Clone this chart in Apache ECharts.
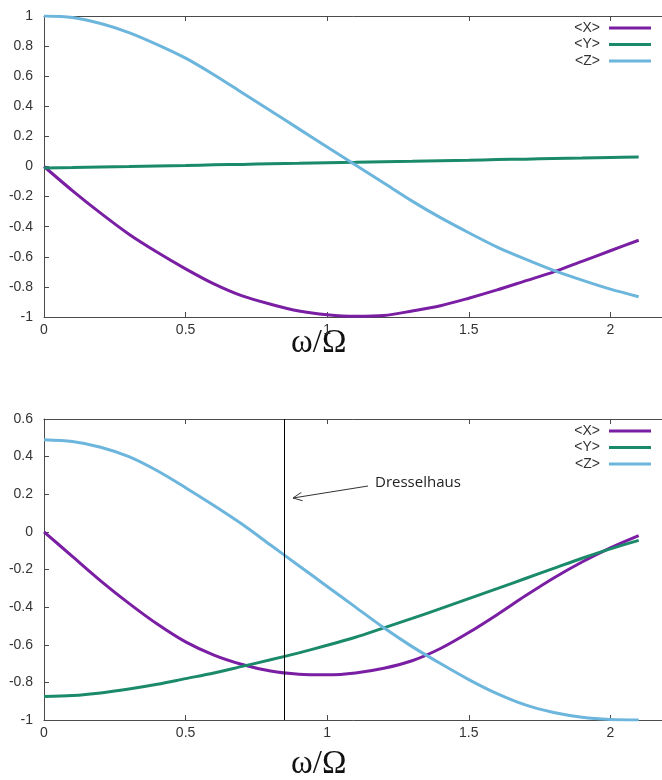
<!DOCTYPE html>
<html><head><meta charset="utf-8">
<script src="https://cdn.jsdelivr.net/npm/echarts@6/dist/echarts.min.js"></script>
<style>html,body{margin:0;padding:0;background:#fff}#c{width:662px;height:780px}</style>
</head><body><div id="c"></div>
<script>
// ---- data ----
const omega = [0, 0.1, 0.2, 0.3, 0.4, 0.5, 0.6, 0.7, 0.8, 0.9, 1.0, 1.1, 1.2, 1.3, 1.4, 1.5, 1.6, 1.7, 1.8, 1.9, 2.0, 2.1];
const seriesNames = ['<X>', '<Y>', '<Z>'];
// upper panel
const topX = [0, -0.16, -0.31, -0.45, -0.57, -0.68, -0.78, -0.86, -0.915, -0.96, -0.985, -0.995, -0.99, -0.96, -0.925, -0.875, -0.82, -0.76, -0.70, -0.63, -0.56, -0.49];
const topY = [-0.010, -0.007, -0.003, 0.000, 0.004, 0.007, 0.011, 0.014, 0.018, 0.021, 0.025, 0.028, 0.032, 0.035, 0.039, 0.042, 0.046, 0.049, 0.053, 0.056, 0.060, 0.063];
const topZ = [1.00, 0.99, 0.95, 0.89, 0.81, 0.72, 0.61, 0.49, 0.37, 0.25, 0.13, 0.01, -0.11, -0.23, -0.34, -0.44, -0.535, -0.615, -0.69, -0.755, -0.815, -0.865];
// lower panel
const botX = [0, -0.13, -0.26, -0.38, -0.49, -0.585, -0.655, -0.705, -0.74, -0.757, -0.76, -0.75, -0.725, -0.685, -0.62, -0.535, -0.44, -0.34, -0.245, -0.16, -0.085, -0.02];
const botY = [-0.875, -0.87, -0.856, -0.835, -0.81, -0.78, -0.75, -0.715, -0.68, -0.643, -0.603, -0.56, -0.51, -0.46, -0.408, -0.355, -0.302, -0.248, -0.194, -0.14, -0.09, -0.045];
const botZ = [0.49, 0.48, 0.45, 0.40, 0.325, 0.235, 0.14, 0.04, -0.07, -0.18, -0.29, -0.40, -0.51, -0.61, -0.70, -0.785, -0.86, -0.92, -0.96, -0.985, -0.997, -1.0];
// axis ranges / ticks
const xRange = [0, 2.2], xStep = 0.5;
const topYRange = [-1, 1], botYRange = [-1, 0.6], yStep = 0.2;
const dresselhausOmega = 0.848;
const annotationText = 'Dresselhaus';
const axisTitle = 'ω/Ω';

// ---- styling ----
const colors = ['#7a1ea3', '#1b8a6b', '#6cb5dc'];
const axisColor = '#4a4a4a';
const labelFont = {fontFamily: 'Liberation Sans', fontSize: 14, color: '#333'};

const chart = echarts.init(document.getElementById('c'), null, {renderer: 'canvas'});
const pairs = (ys) => omega.map((x, i) => [x, ys[i]]);

const grids = [
  {left: 44, top: 16, width: 623, height: 301, containLabel: false, outerBoundsMode: 'none'},
  {left: 44, top: 419, width: 623, height: 301, containLabel: false, outerBoundsMode: 'none'}
];

function xAxes(gi) {
  const base = {type: 'value', gridIndex: gi, min: xRange[0], max: xRange[1], interval: xStep,
    splitLine: {show: false}, axisLine: {show: true, onZero: false, lineStyle: {color: axisColor, width: 1}},
    axisTick: {show: true, inside: true, length: 5, lineStyle: {color: axisColor}}};
  return [
    Object.assign({}, base, {position: 'bottom', axisLabel: Object.assign({margin: 6, showMaxLabel: false}, labelFont)}),
    Object.assign({}, base, {position: 'top', axisLabel: {show: false}})
  ];
}
function yAxis(gi, range) {
  return {type: 'value', gridIndex: gi, min: range[0], max: range[1], interval: yStep,
    splitLine: {show: false}, axisLine: {show: true, onZero: false, lineStyle: {color: axisColor, width: 1}},
    axisTick: {show: true, inside: true, length: 5, lineStyle: {color: axisColor}},
    axisLabel: Object.assign({margin: 11}, labelFont)};
}

function mkSeries(name, data, gi, color, extra) {
  return Object.assign({
    name: name, type: 'line', xAxisIndex: gi * 2, yAxisIndex: gi, data: pairs(data),
    showSymbol: false, symbol: 'none', smooth: 0.3, color: color,
    lineStyle: {width: 3, color: color}, animation: false, z: 3
  }, extra || {});
}

const legendBase = {orient: 'vertical', right: 11, padding: 0, align: 'right', icon: 'rect', itemWidth: 42, itemHeight: 3,
  itemGap: 2.5, data: seriesNames, selectedMode: false,
  textStyle: {fontFamily: 'Liberation Sans', fontSize: 14, color: '#333', lineHeight: 14, padding: [0, 4, 0, 0]}};

// arrow geometry (pixels)
const tail = [368, 486], tip = [293, 498];
const dx = tail[0] - tip[0], dy = tail[1] - tip[1], L = Math.hypot(dx, dy);
const ux = dx / L, uy = dy / L, ang = 25 * Math.PI / 180, hl = 10;
const w1 = [tip[0] + hl * (ux * Math.cos(ang) - uy * Math.sin(ang)), tip[1] + hl * (ux * Math.sin(ang) + uy * Math.cos(ang))];
const w2 = [tip[0] + hl * (ux * Math.cos(-ang) - uy * Math.sin(-ang)), tip[1] + hl * (ux * Math.sin(-ang) + uy * Math.cos(-ang))];

const option = {
  backgroundColor: '#fff',
  animation: false,
  grid: grids,
  xAxis: [].concat(xAxes(0), xAxes(1)),
  yAxis: [yAxis(0, topYRange), yAxis(1, botYRange)],
  legend: [Object.assign({}, legendBase, {top: 21}), Object.assign({}, legendBase, {top: 424})],
  series: [
    mkSeries(seriesNames[0], topX, 0, colors[0]),
    mkSeries(seriesNames[1], topY, 0, colors[1]),
    mkSeries(seriesNames[2], topZ, 0, colors[2]),
    mkSeries(seriesNames[0], botX, 1, colors[0], {
      markLine: {silent: true, symbol: ['none', 'none'], label: {show: false}, animation: false,
        lineStyle: {color: '#000', width: 1, type: 'solid'}, data: [{xAxis: dresselhausOmega}]}
    }),
    mkSeries(seriesNames[1], botY, 1, colors[1]),
    mkSeries(seriesNames[2], botZ, 1, colors[2])
  ],
  graphic: [
    {type: 'text', left: 291, top: 327, style: {text: axisTitle, font: '33px "Liberation Serif"', fill: '#111'}},
    {type: 'text', left: 291, top: 748, style: {text: axisTitle, font: '33px "Liberation Serif"', fill: '#111'}},
    {type: 'text', left: 375, top: 475, style: {text: annotationText, font: '15px "Open Sans"', fill: '#222'}},
    {type: 'line', shape: {x1: tail[0], y1: tail[1], x2: tip[0], y2: tip[1]}, style: {stroke: '#333', lineWidth: 1}},
    {type: 'polyline', shape: {points: [w1, tip, w2]}, style: {stroke: '#333', lineWidth: 1, fill: null}}
  ]
};
chart.setOption(option);
</script></body></html>
